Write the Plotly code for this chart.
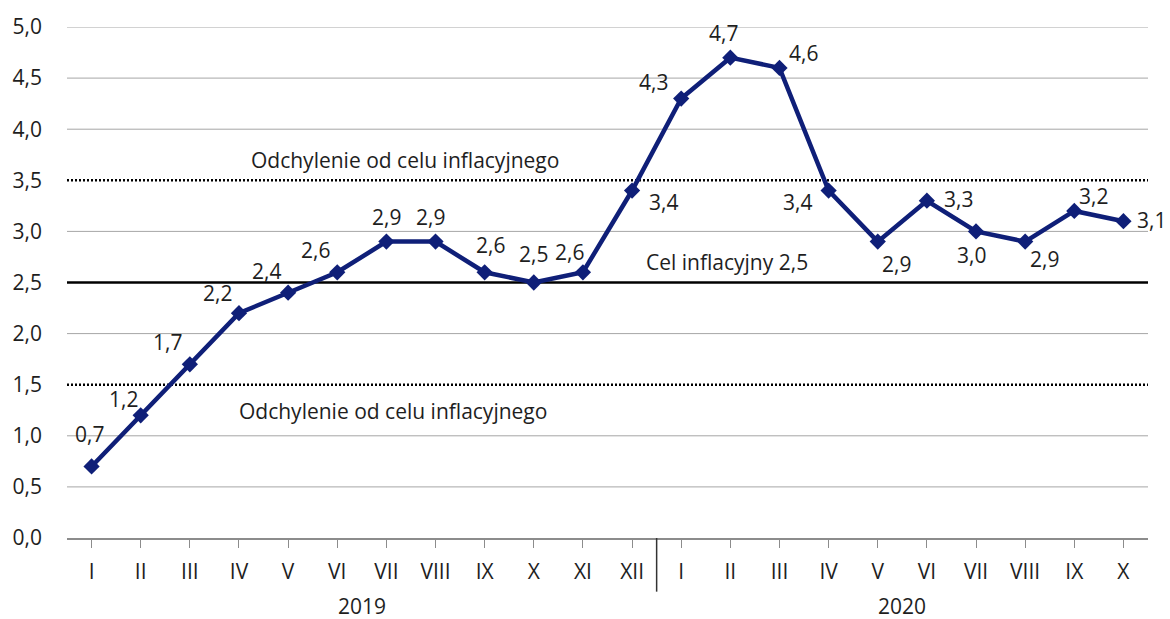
import plotly.graph_objects as go

months = ["I","II","III","IV","V","VI","VII","VIII","IX","X","XI","XII",
          "I","II","III","IV","V","VI","VII","VIII","IX","X"]
years = ["2019"] * 12 + ["2020"] * 10
values = [0.7, 1.2, 1.7, 2.2, 2.4, 2.6, 2.9, 2.9, 2.6, 2.5, 2.6, 3.4,
          4.3, 4.7, 4.6, 3.4, 2.9, 3.3, 3.0, 2.9, 3.2, 3.1]
# label offsets from marker, in pixels (dx right, dy up)
label_dx = [-2, -17, -22, -21, -22, -22, 0, -5, 6, 0, -13, 31,
            -28, -7, 24, -31, 19, 32, -5, 19, 19, 28]
label_dy = [32, 16, 22, 20, 22, 22, 25, 25, 27, 29, 20, -11,
            17, 25, 15, -11, -22, 2, -24, -17, 15, 1]
target = 2.5
band_low, band_high = 1.5, 3.5
y_ticks = [0.0, 0.5, 1.0, 1.5, 2.0, 2.5, 3.0, 3.5, 4.0, 4.5, 5.0]

FONT = "Open Sans"
FS = 21
TXT = "#1e1e1e"
NAVY = "#0f1f78"

n = len(values)
xs = list(range(n))
labels = [f"{v:.1f}".replace(".", ",") for v in values]

fig = go.Figure()
fig.add_trace(go.Scatter(
    x=xs, y=values, mode="lines+markers",
    line=dict(color=NAVY, width=4.5),
    marker=dict(symbol="diamond", size=12.5, color=NAVY),
    cliponaxis=False, showlegend=False,
))

for x, v, lab, dx, dy in zip(xs, values, labels, label_dx, label_dy):
    fig.add_annotation(x=x, y=v, text=lab, showarrow=False,
                       xshift=dx, yshift=dy,
                       font=dict(family=FONT, size=FS, color=TXT))

# gridlines (drawn as shapes so the reference lines sit on top of them)
ref_levels = [target, band_low, band_high]
for t in y_ticks:
    if t == 0 or t in ref_levels:
        continue
    fig.add_shape(type="line", xref="paper", yref="y", x0=0, x1=1, y0=t, y1=t,
                  line=dict(color="#a6a6a6", width=1), layer="below")

# reference lines
for yv, dash, w in [(target, "solid", 2.5), (band_high, "2px,2px", 2.5), (band_low, "2px,2px", 2.5)]:
    fig.add_shape(type="line", xref="paper", yref="y", x0=0, x1=1, y0=yv, y1=yv,
                  line=dict(color="#000000", width=w, dash=dash), layer="below")

# annotations
fig.add_annotation(xref="paper", yref="y", x=0.3127, y=band_high, yshift=20,
                   xanchor="center",
                   text="Odchylenie od celu inflacyjnego", showarrow=False,
                   font=dict(family=FONT, size=FS, color=TXT))
fig.add_annotation(xref="paper", yref="y", x=0.3016, y=band_low, yshift=-26,
                   xanchor="center",
                   text="Odchylenie od celu inflacyjnego", showarrow=False,
                   font=dict(family=FONT, size=FS, color=TXT))
fig.add_annotation(xref="paper", yref="y", x=0.6105, y=target, yshift=21,
                   xanchor="center",
                   text="Cel inflacyjny 2,5", showarrow=False,
                   font=dict(family=FONT, size=FS, color=TXT))

# year labels and separator
first_2020 = years.index("2020")
n19 = first_2020
n20 = n - first_2020
fig.add_annotation(xref="paper", yref="paper", x=(n19 / 2) / n, y=-0.134,
                   text="2019", showarrow=False, xanchor="center", yanchor="middle",
                   font=dict(family=FONT, size=FS, color=TXT))
fig.add_annotation(xref="paper", yref="paper", x=(n19 + n20 / 2) / n, y=-0.134,
                   text="2020", showarrow=False, xanchor="center", yanchor="middle",
                   font=dict(family=FONT, size=FS, color=TXT))
fig.add_shape(type="line", xref="paper", yref="paper",
              x0=first_2020 / n, x1=first_2020 / n, y0=0, y1=-0.105,
              line=dict(color="#333333", width=1.5))

fig.update_layout(
    width=1170, height=619,
    margin=dict(l=67, r=22, t=23, b=81),
    paper_bgcolor="white", plot_bgcolor="white",
    font=dict(family=FONT, size=FS, color=TXT),
    xaxis=dict(tickmode="array", tickvals=xs, ticktext=months,
               range=[-0.5, n - 0.5], tickson="boundaries",
               ticks="outside", ticklen=8, tickcolor="#8c8c8c",
               showline=True, linecolor="#8c8c8c", linewidth=1.5,
               showgrid=False, zeroline=False, ticklabelstandoff=6,
               tickfont=dict(family=FONT, size=FS, color=TXT)),
    yaxis=dict(range=[0, 5.0], tickvals=y_ticks,
               ticktext=[f"{t:.1f}".replace(".", ",") for t in y_ticks],
               showgrid=False, zeroline=False, showline=False, ticks="",
               ticklabelstandoff=24,
               tickfont=dict(family=FONT, size=FS, color=TXT)),
)

fig.write_html("out.html", config={"displayModeBar": False},
               post_script="document.body.style.margin='0';")
